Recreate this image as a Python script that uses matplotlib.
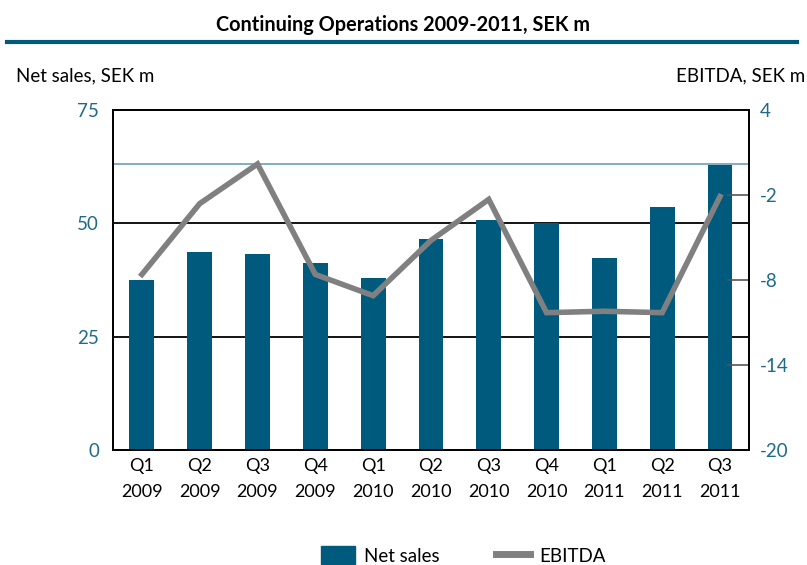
import matplotlib.pyplot as plt
from matplotlib.lines import Line2D
from matplotlib.patches import Patch

plt.rcParams['font.family'] = ['Lato', 'DejaVu Sans']
plt.rcParams['axes.unicode_minus'] = False

quarters = ["Q1", "Q2", "Q3", "Q4", "Q1", "Q2", "Q3", "Q4", "Q1", "Q2", "Q3"]
years = ["2009", "2009", "2009", "2009", "2010", "2010", "2010", "2010", "2011", "2011", "2011"]
net_sales = [37.5, 43.7, 43.2, 41.2, 37.9, 46.5, 50.7, 50.0, 42.3, 53.6, 62.9]
ebitda = [-7.6, -2.6, 0.2, -7.6, -9.1, -5.2, -2.3, -10.3, -10.2, -10.3, -2.1]

blue = "#005a7e"
tick_blue = "#1d6a8a"
grey = "#808080"

fig = plt.figure(figsize=(8.07, 5.65), dpi=100)
ax = fig.add_axes([0.140, 0.2035, 0.788, 0.6015])
ax2 = ax.twinx()

x = list(range(len(net_sales)))
labels = [q + "\n" + y for q, y in zip(quarters, years)]

ax.bar(x, net_sales, width=0.43, color=blue, zorder=3)
ax.set_xlim(-0.5, len(x) - 0.5)
ax.set_ylim(0, 75)
ax.set_yticks([0, 25, 50, 75])
for v in [25, 50]:
    ax.axhline(v, color="black", linewidth=1.3, zorder=1)
ax.tick_params(axis="y", length=0, colors=tick_blue, labelsize=13.5, pad=10)
ax.set_xticks(x)
ax.set_xticklabels(labels, fontsize=13, linespacing=1.75)
ax.tick_params(axis="x", length=0, pad=6)

ax2.set_ylim(-20, 4)
ax2.set_yticks([-20, -14, -8, -2, 4])
ax2.axhline(0.2, color="#6a9fb5", linewidth=1.2, zorder=1)
ax2.plot(x, ebitda, color=grey, linewidth=4, solid_joinstyle="miter", zorder=4)
ax2.tick_params(axis="y", direction="in", length=16, width=1.2, color="#555555",
                colors=tick_blue, labelsize=13.5, pad=8)
ax2.yaxis.set_tick_params(color="#555555")

for a in (ax, ax2):
    for s in a.spines.values():
        s.set_linewidth(1.3)
        s.set_color("black")

fig.text(0.5, 0.955, "Continuing Operations 2009-2011, SEK m", ha="center", va="center",
         fontsize=14.3, fontweight="bold")
fig.add_artist(Line2D([0.009, 0.988], [0.926, 0.926], color=blue, linewidth=3))
fig.text(0.02, 0.866, "Net sales, SEK m", ha="left", va="center", fontsize=13.5)
fig.text(0.998, 0.866, "EBITDA, SEK m", ha="right", va="center", fontsize=13.5)

handles = [Patch(color=blue, label="Net sales"),
           Line2D([0], [0], color=grey, linewidth=5, label="EBITDA")]
fig.legend(handles=handles, loc="center", bbox_to_anchor=(0.574, 0.017), ncol=2,
           frameon=False, fontsize=13.5, handlelength=1.8, handleheight=1.1,
           columnspacing=3.0, handletextpad=0.5)

fig.savefig("out.png", dpi=100)
